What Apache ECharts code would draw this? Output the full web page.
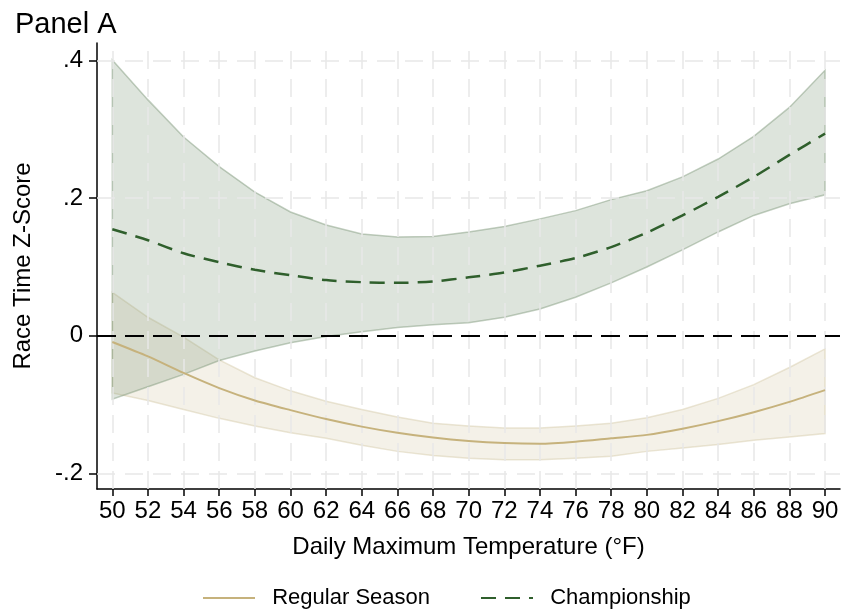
<!DOCTYPE html>
<html>
<head>
<meta charset="utf-8">
<script src="https://cdn.jsdelivr.net/npm/echarts@6/dist/echarts.min.js"></script>
<style>
html,body{margin:0;padding:0;background:#fff;}
#chart{width:844px;height:616px;}
</style>
</head>
<body>
<div id="chart"></div>
<script>
// ---- data ----
var temps = [50,52,54,56,58,60,62,64,66,68,70,72,74,76,78,80,82,84,86,88,90];
var xTicks = [50,52,54,56,58,60,62,64,66,68,70,72,74,76,78,80,82,84,86,88,90];
var yTicks = [-0.2, 0, 0.2, 0.4];

var regMean  = [-0.009,-0.030,-0.054,-0.076,-0.094,-0.108,-0.121,-0.132,-0.141,-0.148,-0.153,-0.156,-0.157,-0.154,-0.149,-0.144,-0.135,-0.124,-0.111,-0.096,-0.079];
var regUpper = [0.063,0.027,-0.002,-0.035,-0.061,-0.080,-0.095,-0.107,-0.118,-0.127,-0.131,-0.134,-0.134,-0.131,-0.127,-0.119,-0.107,-0.091,-0.071,-0.046,-0.019];
var regLower = [-0.083,-0.094,-0.107,-0.120,-0.131,-0.141,-0.149,-0.159,-0.168,-0.174,-0.178,-0.180,-0.180,-0.178,-0.175,-0.168,-0.163,-0.158,-0.152,-0.147,-0.142];

var chMean  = [0.155,0.139,0.120,0.107,0.096,0.088,0.081,0.078,0.077,0.079,0.085,0.092,0.102,0.113,0.129,0.150,0.175,0.202,0.231,0.263,0.294];
var chUpper = [0.401,0.343,0.289,0.246,0.209,0.180,0.161,0.148,0.1435,0.1445,0.151,0.159,0.170,0.182,0.198,0.211,0.231,0.257,0.290,0.332,0.386];
var chLower = [-0.092,-0.074,-0.056,-0.036,-0.022,-0.010,-0.001,0.006,0.012,0.016,0.019,0.027,0.039,0.056,0.077,0.100,0.125,0.151,0.175,0.192,0.205];

var FONT = 'Liberation Sans, Arial, sans-serif';

function pairs(ys){ return temps.map(function(t,i){ return [t, ys[i]]; }); }

function bandSeries(upper, lower, fill, stroke, z){
  return {
    type: 'custom',
    silent: true,
    z: z,
    data: temps.map(function(t,i){ return [t, lower[i], upper[i]]; }),
    encode: {x: 0, y: [1,2]},
    renderItem: function(params, api){
      if (params.dataIndex !== 0) return null;
      var pts = [];
      for (var i = 0; i < temps.length; i++) pts.push(api.coord([temps[i], upper[i]]));
      for (var j = temps.length - 1; j >= 0; j--) pts.push(api.coord([temps[j], lower[j]]));
      return {type: 'polygon', shape: {points: pts}, style: {fill: fill, stroke: stroke, lineWidth: 1.5}};
    }
  };
}

var gridStyle = {color: '#e8e8e8', width: 1.5, type: [18, 10]};

var chart = echarts.init(document.getElementById('chart'), null, {renderer: 'canvas'});
chart.setOption({
  backgroundColor: '#ffffff',
  animation: false,
  title: {
    text: 'Panel A', left: 10, top: 5,
    textStyle: {fontFamily: FONT, fontSize: 29, fontWeight: 'normal', color: '#000'}
  },
  legend: {
    show: true,
    left: 202, top: 587, padding: 0,
    orient: 'horizontal',
    itemWidth: 52, itemHeight: 16, itemGap: 50,
    data: ['Regular Season', 'Championship'],
    formatter: function(name){ return '  ' + name; },
    itemStyle: {color: 'rgba(0,0,0,0)', borderWidth: 0, opacity: 0},
    textStyle: {fontFamily: FONT, fontSize: 22, color: '#000'}
  },
  grid: {left: 97, top: 43, width: 743, height: 446, containLabel: false},
  xAxis: {
    type: 'value', min: 49.14, max: 90.84,
    name: 'Daily Maximum Temperature (°F)', nameLocation: 'middle', nameGap: 46,
    nameTextStyle: {fontFamily: FONT, fontSize: 24, color: '#000'},
    axisLine: {show: true, onZero: false, lineStyle: {color: '#000', width: 1.5}},
    axisTick: {show: true, length: 7, customValues: xTicks, lineStyle: {color: '#000', width: 1.5}},
    axisLabel: {customValues: xTicks, margin: 10, fontFamily: FONT, fontSize: 24, color: '#000'},
    splitLine: {show: false}
  },
  yAxis: {
    type: 'value', min: -0.2227, max: 0.4257,
    name: 'Race Time Z-Score', nameLocation: 'middle', nameGap: 62, nameRotate: 90,
    nameTextStyle: {fontFamily: FONT, fontSize: 24, color: '#000'},
    axisLine: {show: true, onZero: false, lineStyle: {color: '#000', width: 1.5}},
    axisTick: {show: true, length: 8, customValues: yTicks, lineStyle: {color: '#000', width: 1.5}},
    axisLabel: {
      customValues: yTicks, margin: 14, fontFamily: FONT, fontSize: 24, color: '#000',
      formatter: function(v){ if (Math.abs(v) < 1e-9) return '0'; return String(+v.toFixed(2)).replace('0.', '.'); }
    },
    splitLine: {show: false}
  },
  series: [
    {
      type: 'line', name: 'grid', data: [], silent: true, z: 1, legendHoverLink: false,
      markLine: {
        silent: true, symbol: ['none', 'none'], label: {show: false},
        lineStyle: gridStyle, animation: false,
        data: xTicks.map(function(t){ return {xAxis: t}; })
          .concat(yTicks.filter(function(v){ return v !== 0; }).map(function(v){ return {yAxis: v}; }))
      }
    },
    bandSeries(regUpper, regLower, 'rgba(211,199,163,0.25)', 'rgba(211,199,163,0.45)', 2),
    bandSeries(chUpper, chLower, 'rgba(119,147,115,0.25)', 'rgba(119,147,115,0.45)', 3),
    {
      type: 'line', name: 'zero', data: [], silent: true, z: 4,
      markLine: {
        silent: true, symbol: ['none', 'none'], label: {show: false},
        lineStyle: {color: '#000', width: 2, type: [19, 9]},
        data: [{yAxis: 0}]
      }
    },
    {
      type: 'line', name: 'Regular Season', data: pairs(regMean), symbol: 'none', showSymbol: false, smooth: 0.25, z: 5,
      lineStyle: {color: '#c6b27c', width: 2},
      itemStyle: {color: '#c6b27c'}
    },
    {
      type: 'line', name: 'Championship', data: pairs(chMean), symbol: 'none', showSymbol: false, smooth: 0.25, z: 6,
      lineStyle: {color: '#2f5f2c', width: 2.5, type: [15, 9]},
      itemStyle: {color: '#2f5f2c'}
    }
  ]
});
</script>
</body>
</html>
